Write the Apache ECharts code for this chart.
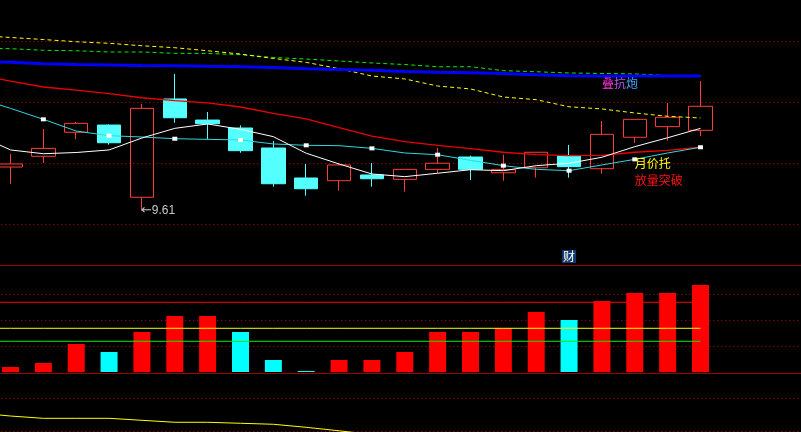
<!DOCTYPE html>
<html><head><meta charset="utf-8">
<script src="https://cdn.jsdelivr.net/npm/echarts@6/dist/echarts.min.js"></script>
<style>html,body{margin:0;padding:0;background:#000;overflow:hidden}#c{width:801px;height:432px;background:#000}</style>
</head><body><div id="c"></div>
<script>
// ---- data ----
const days = ['D0','D1','D2','D3','D4','D5','D6','D7','D8','D9','D10','D11','D12','D13','D14','D15','D16','D17','D18','D19','D20','D21','D22','D23','D24','D25'];
// candles for D1..D22 : [open, close, low, high]
const candles = [
  [9.967, 9.992, 9.830, 10.074],
  [10.055, 10.120, 10.000, 10.279],
  [10.252, 10.325, 10.194, 10.336],
  [10.311, 10.166, 10.150, 10.317],
  [9.719, 10.448, 9.610, 10.484],
  [10.525, 10.371, 10.330, 10.730],
  [10.352, 10.322, 10.194, 10.418],
  [10.287, 10.101, 10.084, 10.309],
  [10.123, 9.830, 9.806, 10.180],
  [9.877, 9.789, 9.732, 9.992],
  [9.855, 9.984, 9.773, 9.998],
  [9.902, 9.871, 9.806, 10.000],
  [9.866, 9.948, 9.765, 9.948],
  [9.948, 9.998, 9.916, 10.125],
  [10.049, 9.948, 9.861, 10.060],
  [9.920, 9.945, 9.855, 10.068],
  [9.961, 10.088, 9.880, 10.088],
  [10.060, 9.970, 9.880, 10.148],
  [9.953, 10.235, 9.912, 10.344],
  [10.211, 10.358, 10.166, 10.358],
  [10.298, 10.375, 10.183, 10.492],
  [10.268, 10.465, 10.221, 10.672]
];
// moving averages for D0..D22
const ma5 = [10.230,10.107,10.076,10.086,10.107,10.205,10.284,10.320,10.276,10.216,10.080,9.992,9.910,9.888,9.916,9.945,9.937,9.978,9.998,10.047,10.134,10.207,10.284];
const ma10 = [10.534,10.448,10.358,10.262,10.224,10.213,10.199,10.194,10.189,10.156,10.145,10.142,10.120,10.082,10.068,10.022,9.978,9.948,9.937,9.984,10.030,10.082,10.129];
const ma20 = [10.721,10.672,10.623,10.598,10.568,10.535,10.511,10.492,10.459,10.407,10.361,10.289,10.221,10.175,10.145,10.117,10.088,10.068,10.060,10.063,10.088,10.104,10.129];
const ma60 = [10.832,10.826,10.814,10.807,10.804,10.800,10.798,10.793,10.789,10.783,10.773,10.766,10.760,10.750,10.743,10.740,10.734,10.724,10.715,10.713,10.713,10.713,10.713];
const ma120 = [10.940,10.937,10.924,10.920,10.910,10.910,10.899,10.898,10.888,10.865,10.852,10.836,10.820,10.807,10.789,10.789,10.757,10.748,10.738,10.734,10.730,10.717,10.713];
const ma250 = [11.045,11.029,11.012,10.994,10.981,10.961,10.945,10.920,10.893,10.857,10.825,10.773,10.713,10.689,10.631,10.607,10.541,10.519,10.461,10.443,10.410,10.383,10.369];
// volume panel, D1..D22
const volume = [192,346,1077,769,1538,2154,2154,1538,462,38,462,462,769,1538,1538,1692,2308,2000,2731,3038,3038,3346];
const volumeUp = [1,1,1,0,1,1,1,0,0,0,1,1,1,1,1,1,1,0,1,1,1,1];
// reference lines in the volume panel, D0..D22
const volLineA = [2681,2681,2681,2681,2681,2681,2681,2681,2681,2681,2681,2681,2681,2681,2681,2681,2681,2681,2681,2681,2681,2681,2681];
const volLineB = [1681,1681,1681,1681,1681,1681,1681,1681,1681,1681,1681,1681,1681,1681,1681,1681,1681,1681,1681,1681,1681,1681,1681];
const volLineC = [1181,1181,1181,1181,1181,1181,1181,1181,1181,1181,1181,1181,1181,1181,1181,1181,1181,1181,1181,1181,1181,1181,1181];
// lower indicator, D0..D12
const indicator = [27.3,22.7,19.2,19.2,19.2,16.2,13.2,13.2,11.7,10.2,5.6,0.3,-5.3,-9.8];
// annotations
const lowNote = {day:'D5', price:9.61, arrow:'←', text:'9.61'};
const signalA = {day:'D19', price:10.652, parts:['叠','抗','炮']};
const signalB = {day:'D20', price:9.996, text:'月价托'};
const signalC = {day:'D20', price:9.857, text:'放量突破'};
const finNote = {day:'D18', value:4442, text:'财'};

// ---- chart ----
const chart = echarts.init(document.getElementById('c'), null, {renderer:'canvas'});
const gridLeft = -38.79, gridWidth = 854.29;
const dotted = {color:'#b00000', width:1, type:[1,3]};
const cjk = '"Noto Sans CJK SC", sans-serif';
function xa(i, line, offset){
  return {type:'category', gridIndex:i, data:days, boundaryGap:true,
    axisLabel:{show:false}, axisTick:{show:false}, splitLine:{show:false},
    axisLine:{show:line, lineStyle:{color:'#a00000', width:1}, onZero:false}, offset:offset||0};
}
function ya(i, min, max, itv, colors){
  return {type:'value', gridIndex:i, min:min, max:max, interval:itv,
    axisLabel:{show:false}, axisTick:{show:false}, axisLine:{show:false},
    splitLine:{show:true, lineStyle:Object.assign({}, dotted, colors ? {color:colors} : {})}};
}
const noteLabel = {position:'inside', align:'left', verticalAlign:'middle', fontSize:12, fontFamily:cjk};
const option = {
  animation:false,
  backgroundColor:'#000',
  grid:[
    {left:gridLeft, width:gridWidth, top:41, height:183, outerBoundsMode:'none'},
    {left:gridLeft, width:gridWidth, top:294, height:78, outerBoundsMode:'none'},
    {left:gridLeft, width:gridWidth, top:398, height:66, outerBoundsMode:'none'}
  ],
  xAxis:[xa(0,true,41), xa(1,true,1), xa(2,false,0)],
  yAxis:[
    ya(0, 9.5, 11, 0.5),
    ya(1, 0, 3000, 1000, ['rgba(0,0,0,0)','#b00000','#b00000','#b00000']),
    ya(2, -50, 50, 50)
  ],
  series:[
    {type:'candlestick', xAxisIndex:0, yAxisIndex:0, barWidth:24, clip:false,
      data:['-'].concat(candles),
      itemStyle:{color:'rgba(0,0,0,0)', color0:'#54ffff', borderColor:'#ff3c3c', borderColor0:'#54ffff', borderWidth:1},
      markPoint:{symbol:'circle', symbolSize:1, itemStyle:{color:'rgba(0,0,0,0)'}, silent:true,
        data:[
          {coord:[lowNote.day, lowNote.price], label:Object.assign({}, noteLabel, {
            formatter:'{a|'+lowNote.arrow+'}{b|'+lowNote.text+'}', offset:[-1,0],
            rich:{a:{color:'#c8c8c8', fontSize:13, fontFamily:'"DejaVu Sans", sans-serif'},
                  b:{color:'#c8c8c8', fontSize:12, fontFamily:'"Liberation Sans", Arial, sans-serif'}}})},
          {coord:[signalA.day, signalA.price], label:Object.assign({}, noteLabel, {
            formatter:'{a|'+signalA.parts[0]+'}{b|'+signalA.parts[1]+'}{c|'+signalA.parts[2]+'}',
            rich:{a:{color:'#ff33dd', fontSize:12, fontFamily:cjk}, b:{color:'#b455f5', fontSize:12, fontFamily:cjk}, c:{color:'#3fa0ff', fontSize:12, fontFamily:cjk}}})},
          {coord:[signalB.day, signalB.price], label:Object.assign({}, noteLabel, {formatter:signalB.text, color:'#ffff00'})},
          {coord:[signalC.day, signalC.price], label:Object.assign({}, noteLabel, {formatter:signalC.text, color:'#ff1010'})}
        ]}
    },
    {type:'line', xAxisIndex:0, yAxisIndex:0, data:ma120, symbol:'none', clip:false, lineStyle:{color:'#00ee00', width:1, type:[4,3]}},
    {type:'line', xAxisIndex:0, yAxisIndex:0, data:ma250, symbol:'none', clip:false, lineStyle:{color:'#ffff00', width:1, type:[4,3]}},
    {type:'line', xAxisIndex:0, yAxisIndex:0, data:ma60, symbol:'none', clip:false, lineStyle:{color:'#0000ff', width:3}},
    {type:'line', xAxisIndex:0, yAxisIndex:0, data:ma20, symbol:'none', clip:false, lineStyle:{color:'#ee0000', width:1.3}},
    {type:'line', xAxisIndex:0, yAxisIndex:0, clip:false, showSymbol:true, showAllSymbol:true,
      symbol:'rect', symbolSize:[5,4], itemStyle:{color:'#ffffff'},
      data:ma10.map(function(v,i){ return (i>0 && i%2===0) ? {value:v} : {value:v, symbol:'none'}; }),
      lineStyle:{color:'#30d8dc', width:1}},
    {type:'line', xAxisIndex:0, yAxisIndex:0, data:ma5, symbol:'none', clip:false, lineStyle:{color:'#ffffff', width:1}},
    {type:'line', xAxisIndex:1, yAxisIndex:1, data:volLineA, symbol:'none', lineStyle:{color:'#ff0000', width:1}},
    {type:'line', xAxisIndex:1, yAxisIndex:1, data:volLineB, symbol:'none', lineStyle:{color:'#ffff00', width:1}},
    {type:'line', xAxisIndex:1, yAxisIndex:1, data:volLineC, symbol:'none', lineStyle:{color:'#00ee00', width:1}},
    {type:'bar', xAxisIndex:1, yAxisIndex:1, barWidth:17, clip:false,
      data:['-'].concat(volume.map(function(v,i){ return {value:v, itemStyle:{color: volumeUp[i] ? '#ff0000' : '#00ffff'}}; }))
    },
    {type:'line', xAxisIndex:2, yAxisIndex:2, data:indicator, symbol:'none', lineStyle:{color:'#ffff00', width:1}}
  ]
};
chart.setOption(option);
// financial-report badge above the volume panel, placed through the volume panel's axes
const fx = chart.convertToPixel({xAxisIndex:1}, finNote.day);
const fy = chart.convertToPixel({yAxisIndex:1}, finNote.value);
chart.setOption({graphic:[{
  type:'group', x:fx, y:fy, silent:true,
  children:[
    {type:'rect', shape:{x:-7, y:-6.5, width:14, height:13}, style:{fill:'#123a6c'}},
    {type:'text', x:0, y:0, style:{text:finNote.text, fill:'#ffffff', font:'12px "Noto Sans CJK SC", sans-serif', align:'center', verticalAlign:'middle'}}
  ]
}]});
</script>
</body></html>
